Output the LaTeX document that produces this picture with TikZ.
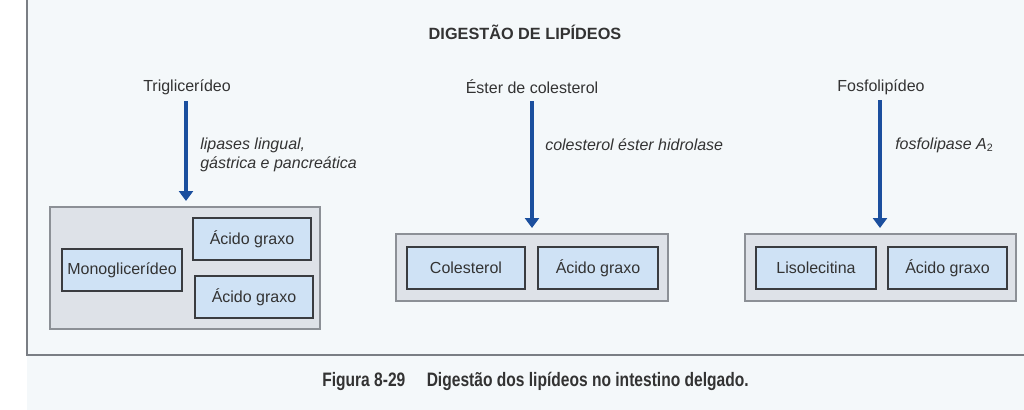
\documentclass[tikz,border=0pt]{standalone}
\usepackage{fontspec}
\setmainfont{Liberation Sans}
\newfontfamily\capfont[FakeStretch=0.8]{Liberation Sans}
\usetikzlibrary{arrows.meta}
\definecolor{bg}{HTML}{F4F8FA}
\definecolor{framecol}{HTML}{7A7E84}
\definecolor{outerfill}{HTML}{DEE2E8}
\definecolor{outerdraw}{HTML}{8C9096}
\definecolor{innerfill}{HTML}{CFE2F5}
\definecolor{innerdraw}{HTML}{3A3C40}
\definecolor{arrowcol}{HTML}{1B4F9E}
\definecolor{txt}{HTML}{333333}
\tikzset{
  outerbox/.style={draw=outerdraw, fill=outerfill, line width=1.2pt, inner sep=0pt},
  innerbox/.style={draw=innerdraw, fill=innerfill, line width=1.4pt, inner sep=0pt,
    minimum height=31.5pt, font=\fontsize{12}{14}\selectfont, text=txt},
  sublabel/.style={font=\fontsize{12}{14}\selectfont, text=txt, inner sep=0pt},
  enzlabel/.style={font=\fontsize{12}{14.5}\selectfont\itshape, text=txt, inner sep=0pt, anchor=west, align=left},
  reaction/.style={draw=arrowcol, line width=2.3pt, -{Triangle[width=10.5pt,length=7.5pt]}},
}
\begin{document}
\begin{tikzpicture}[x=0.75pt,y=-0.75pt]
\useasboundingbox (0,0) rectangle (1024,410);
\fill[bg] (0,0) rectangle (1024,410);
\fill[white] (0,0) rectangle (27,410);
\draw[framecol, line width=0.9pt] (27,0) -- (27,355) -- (1024,355);

\node[font=\fontsize{12.2}{14}\selectfont\bfseries, text=txt, inner sep=0pt] (title) at (525,32) {DIGESTÃO DE LIPÍDEOS};

% substrates
\node[sublabel] (tri) at (187,87) {Triglicerídeo};
\node[sublabel] (est) at (532,87) {Éster de colesterol};
\node[sublabel] (fos) at (881,87) {Fosfolipídeo};

% product groups
\node[outerbox, minimum width=202.5pt, minimum height=91.5pt] (g1) at (185,268) {};
\node[innerbox, minimum width=90pt] (mono) at (122,270) {Monoglicerídeo};
\node[innerbox, minimum width=88.5pt] (ag1) at (252,239) {Ácido graxo};
\node[innerbox, minimum width=88.5pt] (ag2) at (254,297) {Ácido graxo};

\node[outerbox, minimum width=204pt, minimum height=50.25pt] (g2) at (532,267.5) {};
\node[innerbox, minimum width=88.5pt] (col) at (466,268) {Colesterol};
\node[innerbox, minimum width=90pt] (ag3) at (598,268) {Ácido graxo};

\node[outerbox, minimum width=203.25pt, minimum height=50.25pt] (g3) at (880.5,267.5) {};
\node[innerbox, minimum width=90pt] (liso) at (816,268) {Lisolecitina};
\node[innerbox, minimum width=89.25pt] (ag4) at (947.5,268) {Ácido graxo};

% reactions
\coordinate (t1) at (186,101);
\coordinate (e1) at (186,201);
\coordinate (t2) at (532,101);
\coordinate (e2) at (532,228);
\coordinate (t3) at (880,100);
\coordinate (e3) at (880,228);
\draw[reaction] (t1) -- (e1);
\draw[reaction] (t2) -- (e2);
\draw[reaction] (t3) -- (e3);

\node[enzlabel] (enz1) at (200,155) {lipases lingual,\\gástrica e pancreática};
\node[enzlabel] (enz2) at (545,145) {colesterol éster hidrolase};
\node[enzlabel] (enz3) at (895,145) {fosfolipase \textit{A}\textsubscript{\upshape\fontsize{8}{9}\selectfont 2}};

% caption
\node[font=\capfont\fontsize{14.6}{17}\selectfont\bfseries, text=txt, inner sep=0pt, anchor=west] (cap) at (322,381) {Figura 8-29\hspace{1.1em}Digestão dos lipídeos no intestino delgado.};
\end{tikzpicture}
\end{document}
